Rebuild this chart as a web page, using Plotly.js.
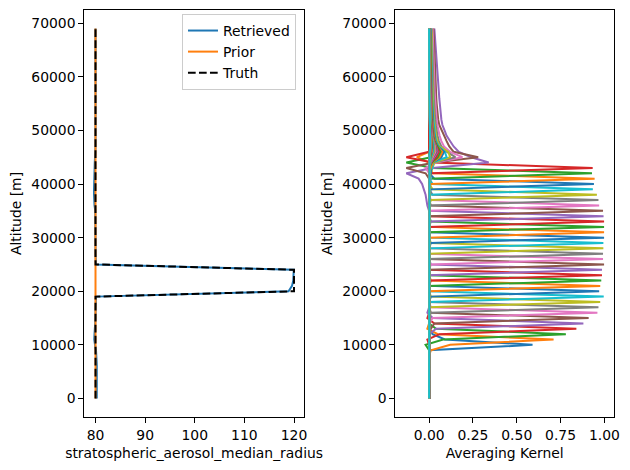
<!DOCTYPE html>
<html>
<head>
<meta charset="utf-8">
<script src="https://cdn.plot.ly/plotly-3.0.1.min.js"></script>
<style>
  html, body { margin: 0; padding: 0; background: #ffffff; }
  #chart { width: 630px; height: 470px; }
</style>
</head>
<body>
<div id="chart"></div>
<script>
// Altitude grid of the retrieval [m]
const altitude = [
  0, 1000, 2000, 3000, 4000, 5000, 6000, 7000, 8000, 9000,
  10000, 11000, 12000, 13000, 14000, 15000, 16000, 17000, 18000, 19000,
  20000, 21000, 22000, 23000, 24000, 25000, 26000, 27000, 28000, 29000,
  30000, 31000, 32000, 33000, 34000, 35000, 36000, 37000, 38000, 39000,
  40000, 41000, 42000, 43000, 44000, 45000, 46000, 47000, 48000, 49000,
  50000, 51000, 52000, 53000, 54000, 55000, 56000, 57000, 58000, 59000,
  60000, 61000, 62000, 63000, 64000, 65000, 66000, 67000, 68000, 69000
];

// stratospheric_aerosol_median_radius profiles
const retrieved = [
  80.25, 80.27, 80.28, 80.3, 80.3, 80.28, 80.26, 80.22, 80.18, 80.1,
  79.9, 79.75, 79.8, 79.9, 80.0, 80.0, 80.0, 80.0, 80.0, 80.1,
  118.9, 119.6, 119.85, 119.9, 119.95, 80.1, 80.0, 80.0, 80.0, 80.0,
  80.0, 80.0, 80.0, 80.0, 80.0, 79.95, 79.8, 79.7, 79.7, 79.7,
  79.7, 79.75, 79.75, 79.8, 79.85, 79.9, 80.0, 80.0, 80.0, 80.0,
  80.0, 80.0, 80.0, 80.0, 80.0, 80.0, 80.0, 80.0, 80.0, 80.0,
  80.0, 80.0, 80.0, 80.0, 80.0, 80.0, 80.0, 80.0, 80.0, 80.0
];
const prior = [
  80, 80, 80, 80, 80, 80, 80, 80, 80, 80,
  80, 80, 80, 80, 80, 80, 80, 80, 80, 80,
  80, 80, 80, 80, 80, 80, 80, 80, 80, 80,
  80, 80, 80, 80, 80, 80, 80, 80, 80, 80,
  80, 80, 80, 80, 80, 80, 80, 80, 80, 80,
  80, 80, 80, 80, 80, 80, 80, 80, 80, 80,
  80, 80, 80, 80, 80, 80, 80, 80, 80, 80
];
const truth = [
  80, 80, 80, 80, 80, 80, 80, 80, 80, 80,
  80, 80, 80, 80, 80, 80, 80, 80, 80, 80,
  120, 120, 120, 120, 120, 80, 80, 80, 80, 80,
  80, 80, 80, 80, 80, 80, 80, 80, 80, 80,
  80, 80, 80, 80, 80, 80, 80, 80, 80, 80,
  80, 80, 80, 80, 80, 80, 80, 80, 80, 80,
  80, 80, 80, 80, 80, 80, 80, 80, 80, 80
];

// Averaging kernel rows, stored as bands: each row i has non-zero
// entries starting at grid index akStart[i]; everything else is 0.
const akStart = [
  0, 0, 0, 0, 0, 0, 0, 0, 0, 0,
  9, 9, 10, 11, 12, 13, 15, 16, 17, 18,
  19, 20, 21, 22, 23, 24, 25, 26, 27, 28,
  29, 30, 31, 32, 33, 34, 35, 36, 37, 38,
  39, 40, 41, 42, 35, 41, 41, 41, 41, 41,
  41, 41, 44, 44, 44, 44, 44, 44, 44, 44,
  44, 44, 44, 44, 44, 44, 44, 44, 44, 44
];
const akBand = [
  [], [], [], [], [], [], [], [], [], [],
  [0.0, 0.59, 0.09, 0.02, 0.0],
  [0.01, 0.12, 0.71, 0.05, -0.01],
  [-0.02, 0.08, 0.78, 0.04, 0.0],
  [-0.01, 0.06, 0.84, 0.03, -0.01],
  [0.0, 0.04, 0.88, 0.02, -0.01],
  [0.01, 0.03, 0.91, 0.01, 0.0],
  [0.02, 0.96, 0.01],
  [0.01, 0.966, 0.0],
  [0.0, 0.976, 0.01],
  [0.0, 0.996, 0.0],
  [0.01, 0.97, 0.0],
  [0.0, 0.976, 0.01],
  [0.0, 0.982, 0.0],
  [0.01, 0.986, 0.0],
  [0.0, 0.986, 0.01],
  [0.0, 0.998, 0.0],
  [0.01, 0.992, 0.0],
  [0.0, 0.992, 0.0],
  [0.0, 0.994, 0.01],
  [0.0, 0.994, 0.0],
  [0.01, 0.998, 0.0],
  [0.0, 0.998, 0.0],
  [0.0, 0.998, 0.01],
  [0.0, 0.998, 0.0],
  [0.01, 0.995, 0.0],
  [0.0, 0.992, 0.01],
  [0.0, 0.97, 0.01],
  [0.0, 0.966, 0.02],
  [0.01, 0.957, 0.02],
  [0.0, 0.934, 0.02],
  [0.01, 0.94, 0.03],
  [0.01, 0.944, 0.02, 0.0, 0.0, -0.07, 0.0],
  [0.0, 0.929, 0.02, -0.13, 0.01],
  [0.01, 0.933, 0.02, -0.13, 0.0],
  [0.0, -0.01, -0.015, -0.02, -0.03, -0.04, -0.06, -0.13, 0.02, 0.34,
   0.24, 0.17, 0.14, 0.12, 0.1, 0.088, 0.076, 0.07, 0.066, 0.063,
   0.06, 0.058, 0.056, 0.054, 0.052, 0.05, 0.048, 0.046, 0.044, 0.042,
   0.04, 0.038, 0.037, 0.035, 0.03],
  [0.0, -0.02, -0.13, 0.03, 0.28, 0.14, 0.115, 0.1, 0.085, 0.07,
   0.058, 0.052, 0.048, 0.045, 0.043, 0.041, 0.039, 0.038, 0.037, 0.036,
   0.035, 0.034, 0.033, 0.032, 0.031, 0.03, 0.03, 0.029, 0.025],
  [0.01, 0.0, -0.02, 0.04, 0.19, 0.12, 0.085, 0.07, 0.06, 0.052,
   0.047, 0.043, 0.04, 0.038, 0.036, 0.034, 0.032, 0.031, 0.03, 0.029,
   0.028, 0.027, 0.026, 0.025, 0.025, 0.024, 0.024, 0.023, 0.02],
  [0.005, 0.01, 0.0, 0.03, 0.15, 0.1, 0.07, 0.056, 0.048, 0.042,
   0.038, 0.035, 0.032, 0.03, 0.028, 0.027, 0.026, 0.025, 0.024, 0.023,
   0.022, 0.021, 0.02, 0.02, 0.019, 0.019, 0.018, 0.018, 0.015],
  [0.0, 0.01, 0.02, 0.03, 0.12, 0.11, 0.06, 0.047, 0.04, 0.035,
   0.031, 0.028, 0.026, 0.024, 0.023, 0.022, 0.021, 0.02, 0.019, 0.018,
   0.018, 0.017, 0.017, 0.016, 0.016, 0.015, 0.015, 0.015, 0.012],
  [0.01, 0.0, 0.02, 0.02, 0.1, 0.09, 0.055, 0.04, 0.034, 0.03,
   0.027, 0.024, 0.022, 0.02, 0.019, 0.018, 0.017, 0.016, 0.016, 0.015,
   0.015, 0.014, 0.014, 0.013, 0.013, 0.013, 0.012, 0.012, 0.01],
  [0.0, 0.01, 0.01, 0.02, 0.07, 0.085, 0.05, 0.036, 0.03, 0.026,
   0.023, 0.021, 0.019, 0.018, 0.017, 0.016, 0.015, 0.014, 0.014, 0.013,
   0.013, 0.012, 0.012, 0.011, 0.011, 0.011, 0.01, 0.01, 0.008],
  [0.0, 0.0, 0.01, 0.02, 0.06, 0.075, 0.048, 0.033, 0.027, 0.023,
   0.02, 0.018, 0.016, 0.015, 0.014, 0.013, 0.012, 0.012, 0.011, 0.011,
   0.01, 0.01, 0.01, 0.009, 0.009, 0.009, 0.008, 0.008, 0.006],
  [0.015, 0.05, 0.065, 0.045, 0.03, 0.024, 0.02, 0.017, 0.015, 0.014,
   0.013, 0.012, 0.011, 0.011, 0.01, 0.01, 0.009, 0.009, 0.008, 0.008,
   0.008, 0.007, 0.007, 0.007, 0.006, 0.005],
  [0.01, 0.04, 0.055, 0.042, 0.028, 0.021, 0.017, 0.015, 0.013, 0.012,
   0.011, 0.01, 0.009, 0.009, 0.008, 0.008, 0.007, 0.007, 0.007, 0.006,
   0.006, 0.006, 0.005, 0.005, 0.005, 0.004],
  [0.01, 0.03, 0.048, 0.04, 0.026, 0.019, 0.015, 0.013, 0.011, 0.01,
   0.009, 0.008, 0.008, 0.007, 0.007, 0.006, 0.006, 0.006, 0.005, 0.005,
   0.005, 0.004, 0.004, 0.004, 0.004, 0.003],
  [0.005, 0.025, 0.042, 0.038, 0.024, 0.017, 0.013, 0.011, 0.009, 0.008,
   0.007, 0.007, 0.006, 0.006, 0.005, 0.005, 0.005, 0.004, 0.004, 0.004,
   0.003, 0.003, 0.003, 0.003, 0.003, 0.002],
  [0.005, 0.02, 0.036, 0.034, 0.022, 0.015, 0.011, 0.009, 0.008, 0.007,
   0.006, 0.006, 0.005, 0.005, 0.005, 0.004, 0.004, 0.004, 0.003, 0.003,
   0.003, 0.003, 0.003, 0.002, 0.002, 0.002],
  [0.004, 0.016, 0.03, 0.03, 0.02, 0.014, 0.01, 0.008, 0.007, 0.006,
   0.006, 0.005, 0.005, 0.004, 0.004, 0.004, 0.003, 0.003, 0.003, 0.003,
   0.003, 0.002, 0.002, 0.002, 0.002, 0.001],
  [0.003, 0.013, 0.026, 0.027, 0.019, 0.013, 0.01, 0.008, 0.007, 0.006,
   0.005, 0.005, 0.004, 0.004, 0.004, 0.003, 0.003, 0.003, 0.003, 0.002,
   0.002, 0.002, 0.002, 0.002, 0.001, 0.001],
  [0.002, 0.01, 0.022, 0.024, 0.018, 0.012, 0.009, 0.007, 0.006, 0.005,
   0.005, 0.004, 0.004, 0.004, 0.003, 0.003, 0.003, 0.003, 0.002, 0.002,
   0.002, 0.002, 0.002, 0.001, 0.001, 0.001],
  [0.002, 0.008, 0.018, 0.021, 0.016, 0.011, 0.008, 0.007, 0.006, 0.005,
   0.004, 0.004, 0.004, 0.003, 0.003, 0.003, 0.003, 0.002, 0.002, 0.002,
   0.002, 0.002, 0.001, 0.001, 0.001, 0.001],
  [0.001, 0.006, 0.015, 0.018, 0.015, 0.01, 0.008, 0.006, 0.005, 0.005,
   0.004, 0.004, 0.003, 0.003, 0.003, 0.003, 0.002, 0.002, 0.002, 0.002,
   0.002, 0.001, 0.001, 0.001, 0.001, 0.001],
  [0.001, 0.005, 0.012, 0.016, 0.013, 0.01, 0.007, 0.006, 0.005, 0.004,
   0.004, 0.003, 0.003, 0.003, 0.003, 0.002, 0.002, 0.002, 0.002, 0.002,
   0.001, 0.001, 0.001, 0.001, 0.001, 0.001],
  [0.0, 0.004, 0.01, 0.014, 0.012, 0.009, 0.007, 0.006, 0.005, 0.004,
   0.004, 0.003, 0.003, 0.003, 0.002, 0.002, 0.002, 0.002, 0.002, 0.001,
   0.001, 0.001, 0.001, 0.001, 0.001, 0.0],
  [0.0, 0.003, 0.008, 0.012, 0.011, 0.008, 0.006, 0.005, 0.004, 0.004,
   0.003, 0.003, 0.003, 0.002, 0.002, 0.002, 0.002, 0.002, 0.001, 0.001,
   0.001, 0.001, 0.001, 0.001, 0.0, 0.0],
  [0.0, 0.002, 0.007, 0.01, 0.01, 0.008, 0.006, 0.005, 0.004, 0.003,
   0.003, 0.003, 0.002, 0.002, 0.002, 0.002, 0.002, 0.001, 0.001, 0.001,
   0.001, 0.001, 0.001, 0.0, 0.0, 0.0],
  [0.0, 0.002, 0.006, 0.009, 0.009, 0.007, 0.005, 0.004, 0.004, 0.003,
   0.003, 0.002, 0.002, 0.002, 0.002, 0.002, 0.001, 0.001, 0.001, 0.001,
   0.001, 0.001, 0.0, 0.0, 0.0, 0.0],
  [0.0, 0.001, 0.005, 0.008, 0.008, 0.006, 0.005, 0.004, 0.003, 0.003,
   0.002, 0.002, 0.002, 0.002, 0.002, 0.001, 0.001, 0.001, 0.001, 0.001,
   0.001, 0.0, 0.0, 0.0, 0.0, 0.0],
  [0.0, 0.001, 0.004, 0.007, 0.007, 0.006, 0.004, 0.004, 0.003, 0.003,
   0.002, 0.002, 0.002, 0.002, 0.001, 0.001, 0.001, 0.001, 0.001, 0.001,
   0.0, 0.0, 0.0, 0.0, 0.0, 0.0],
  [0.0, 0.001, 0.003, 0.006, 0.006, 0.005, 0.004, 0.003, 0.003, 0.002,
   0.002, 0.002, 0.002, 0.001, 0.001, 0.001, 0.001, 0.001, 0.001, 0.0,
   0.0, 0.0, 0.0, 0.0, 0.0, 0.0]
];

// Tick labels
const altTickVals = [0, 10000, 20000, 30000, 40000, 50000, 60000, 70000];
const altTickText = ['0', '10000', '20000', '30000', '40000', '50000', '60000', '70000'];
const radiusTickVals = [80, 90, 100, 110, 120];
const radiusTickText = ['80', '90', '100', '110', '120'];
const akTickVals = [0, 0.25, 0.5, 0.75, 1.0];
const akTickText = ['0.00', '0.25', '0.50', '0.75', '1.00'];

// matplotlib "tab10" colour cycle
const cycle = ['#1f77b4', '#ff7f0e', '#2ca02c', '#d62728', '#9467bd',
               '#8c564b', '#e377c2', '#7f7f7f', '#bcbd22', '#17becf'];

const FONT = { family: 'DejaVu Sans, sans-serif', size: 13.9, color: '#000000' };

const traces = [
  { x: retrieved, y: altitude, name: 'Retrieved', type: 'scatter', mode: 'lines',
    line: { color: cycle[0], width: 2 }, xaxis: 'x', yaxis: 'y' },
  { x: prior, y: altitude, name: 'Prior', type: 'scatter', mode: 'lines',
    line: { color: cycle[1], width: 2 }, xaxis: 'x', yaxis: 'y' },
  { x: truth, y: altitude, name: 'Truth', type: 'scatter', mode: 'lines',
    line: { color: '#000000', width: 2, dash: '7.7px,3.3px' }, xaxis: 'x', yaxis: 'y' }
];

// one line per averaging-kernel row
for (let i = 0; i < akStart.length; i++) {
  const row = altitude.map(() => 0);
  akBand[i].forEach((v, k) => { row[akStart[i] + k] = v; });
  traces.push({
    x: row, y: altitude, type: 'scatter', mode: 'lines', showlegend: false,
    hoverinfo: 'skip', line: { color: cycle[i % 10], width: 2 },
    xaxis: 'x2', yaxis: 'y2'
  });
}

const axisCommon = {
  showgrid: false, zeroline: false, showline: true, mirror: true,
  linecolor: '#000000', linewidth: 1, ticks: 'outside', ticklen: 5,
  tickwidth: 1, tickcolor: '#000000', tickfont: FONT
};

const layout = {
  width: 630, height: 470,
  margin: { l: 0, r: 0, t: 0, b: 0 },
  paper_bgcolor: '#ffffff', plot_bgcolor: '#ffffff',
  font: FONT,
  showlegend: true,
  legend: {
    x: 0.4698, xanchor: 'right', y: 0.9702, yanchor: 'top',
    bgcolor: 'rgba(255,255,255,0.8)', bordercolor: '#cccccc', borderwidth: 1,
    font: FONT
  },
  xaxis: Object.assign({}, axisCommon, {
    domain: [0.1338, 0.4825], range: [77.74, 122.01],
    tickvals: radiusTickVals, ticktext: radiusTickText, anchor: 'y',
    title: { text: 'stratospheric_aerosol_median_radius', font: FONT, standoff: 6 }
  }),
  yaxis: Object.assign({}, axisCommon, {
    domain: [0.1128, 0.9787], range: [-3450, 72450],
    tickvals: altTickVals, ticktext: altTickText, anchor: 'x',
    title: { text: 'Altitude [m]', font: FONT, standoff: 6 }
  }),
  xaxis2: Object.assign({}, axisCommon, {
    domain: [0.6275, 0.9746], range: [-0.1927, 1.0547],
    tickvals: akTickVals, ticktext: akTickText, anchor: 'y2',
    title: { text: 'Averaging Kernel', font: FONT, standoff: 6 }
  }),
  yaxis2: Object.assign({}, axisCommon, {
    domain: [0.1128, 0.9787], range: [-3450, 72450],
    tickvals: altTickVals, ticktext: altTickText, anchor: 'x2',
    title: { text: 'Altitude [m]', font: FONT, standoff: 6 }
  })
};

Plotly.newPlot('chart', traces, layout, { staticPlot: true, displayModeBar: false });
</script>
</body>
</html>
